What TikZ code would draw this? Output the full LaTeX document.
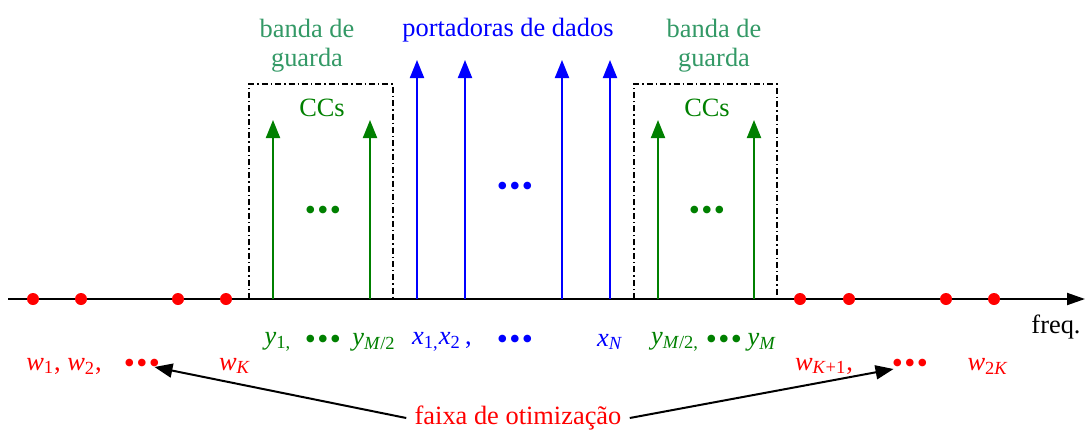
\documentclass[tikz,border=0pt]{standalone}
\usepackage{fontspec}
\setmainfont{Liberation Serif}
\usetikzlibrary{arrows.meta}
\definecolor{guardgreen}{RGB}{51,153,102}
\definecolor{ccgreen}{RGB}{0,128,0}
\newcommand{\tridots}{\scalebox{1.2}{\textbullet\kern.6pt\textbullet\kern.6pt\textbullet}}
\newcommand{\vi}[2]{\textit{#1}\textsubscript{#2}}
\tikzset{
  lbl/.style = {inner sep = 0pt, font = \fontsize{13.2}{15.5}\selectfont},
  carrier/.style = {line width = 1pt, -{Triangle[length = 9pt, width = 7pt]}},
  guardbox/.style = {line width = .75pt, dash pattern = on 3pt off 1.5pt on .7pt off 1.5pt}
}
\begin{document}
\begin{tikzpicture}[x = .5pt, y = -.5pt]
        \useasboundingbox (0, 0) rectangle (1085, 434);
        \coordinate (axisL) at (8, 299);
        \coordinate (axisR) at (1085, 299);
        \draw[guardbox] (249, 299) -- (249, 84) -- (393, 84) -- (393, 299);
        \draw[guardbox] (634, 299) -- (634, 84) -- (777, 84) -- (777, 299);
        \draw[line width = 1pt, -{Triangle[length = 9pt, width = 6pt]}] (axisL) -- (axisR);
        \foreach \x in {417, 465, 562, 610}
        \draw[blue, carrier] (\x, 299) -- (\x, 60);
        \foreach \x in {273, 370, 658, 754}
        \draw[ccgreen, carrier] (\x, 299) -- (\x, 120);
        \foreach \x in {33, 81, 178, 226, 800, 849, 946, 994}
        \fill[red] (\x, 299) circle (6);
        \node[lbl, guardgreen, align = center] (guardL) at (307, 46) {banda de\\[-1pt]guarda};
        \node[lbl, guardgreen, align = center] (guardR) at (714, 46) {banda de\\[-1pt]guarda};
        \node[lbl, blue] (datalbl) at (508, 30) {portadoras de dados};
        \node[lbl, ccgreen] (ccL) at (322, 108) {CCs};
        \node[lbl, ccgreen] (ccR) at (707, 108) {CCs};
        \node[lbl, ccgreen] (ccdotsL) at (323, 213) {\tridots};
        \node[lbl, ccgreen] (ccdotsR) at (707, 213) {\tridots};
        \node[lbl, blue] (datadots) at (515, 189) {\tridots};
        \node[lbl, ccgreen] (y1) at (278, 342) {\vi{y}{1,}};
        \node[lbl, ccgreen] (ydotsL) at (323, 342) {\tridots};
        \node[lbl, ccgreen] (yM2) at (374, 342) {\vi{y}{\textit{M}/2}};
        \node[lbl, blue] (x12) at (442, 342) {\vi{x}{1,}\vi{x}{2}\,,};
        \node[lbl, blue] (xdots) at (515, 342) {\tridots};
        \node[lbl, blue] (xN) at (610, 342) {\vi{x}{\textit{N}}};
        \node[lbl, ccgreen] (yM2b) at (675, 342) {\vi{y}{\textit{M}/2,}};
        \node[lbl, ccgreen] (ydotsR) at (724, 342) {\tridots};
        \node[lbl, ccgreen] (yM) at (762, 342) {\vi{y}{\textit{M}}};
        \node[lbl] (freq) at (1056, 327) {freq.};
        \node[lbl, red] (w12) at (64, 366) {\vi{w}{1}, \vi{w}{2},};
        \node[lbl, red] (wdotsL) at (142, 366) {\tridots};
        \node[lbl, red] (wK) at (235, 366) {\vi{w}{\textit{K}}};
        \node[lbl, red] (wK1) at (824, 366) {\vi{w}{\textit{K}+1},};
        \node[lbl, red] (wdotsR) at (910, 366) {\tridots};
        \node[lbl, red] (w2K) at (988, 366) {\vi{w}{2\textit{K}}};
        \node[lbl, red] (optlbl) at (518, 418) {faixa de otimização};
        \draw[line width = 1pt, -{Triangle[length = 9pt, width = 7pt]}] ([xshift = -4pt] optlbl.west) -- ([xshift = -3pt, yshift = -.5pt] wdotsL.east);
        \draw[line width = 1pt, -{Triangle[length = 9pt, width = 7pt]}] ([xshift = 4pt] optlbl.east) -- ([xshift = 1pt, yshift = -1.5pt] wdotsR.west);
\end{tikzpicture}
\end{document}
